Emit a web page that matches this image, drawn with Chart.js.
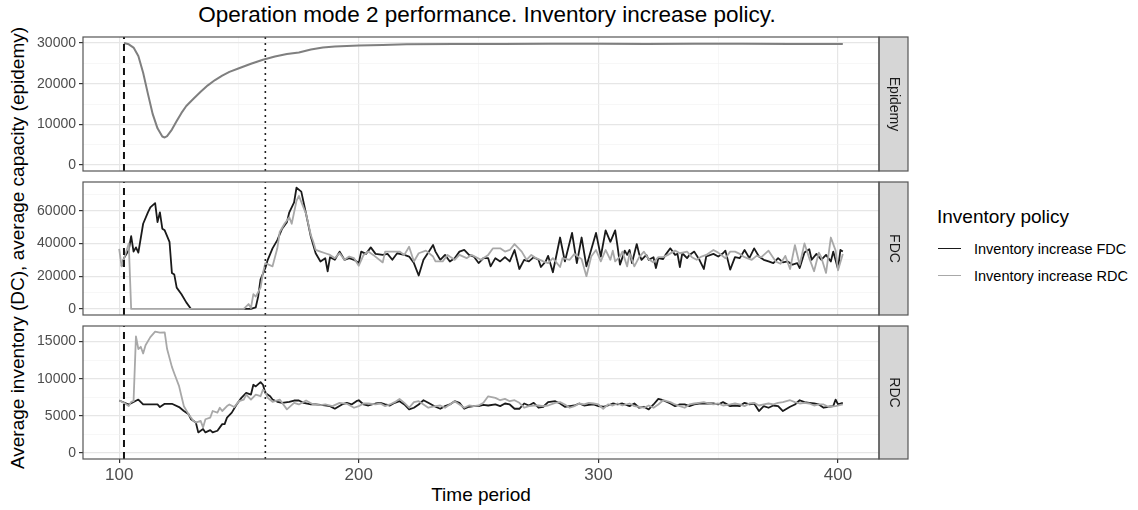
<!DOCTYPE html>
<html>
<head>
<meta charset="utf-8">
<script src="https://cdn.jsdelivr.net/npm/chart.js@4.4.0/dist/chart.umd.min.js"></script>
<style>
  body { margin: 0; background: #fff; font-family: "Liberation Sans", Arial, sans-serif; }
  #wrap { position: relative; width: 1138px; height: 510px; overflow: hidden; }
  canvas.panel { position: absolute; left: 0; }
  .txt { position: absolute; white-space: nowrap; color: #000; }
  .key { position: absolute; left: 938px; width: 23px; height: 0; }
</style>
</head>
<body>
<div id="wrap">
  <div class="txt" id="title" style="left:0;width:974px;top:4px;text-align:center;font-size:22.5px;line-height:22px;">Operation mode 2 performance. Inventory increase policy.</div>
  <div class="txt" id="ytitle" style="left:-232px;width:500px;top:238px;text-align:center;font-size:19px;line-height:20px;transform:rotate(-90deg);">Average inventory (DC), average capacity (epidemy)</div>
  <div class="txt" id="xtitle" style="left:231px;width:500px;top:485px;text-align:center;font-size:19px;line-height:20px;">Time period</div>

  <div class="txt" style="left:937px;top:207px;font-size:19px;line-height:20px;">Inventory policy</div>
  <div class="key" style="top:248px;border-top:1.8px solid #1A1A1A;"></div>
  <div class="txt" style="left:974px;top:240px;font-size:14.5px;line-height:18px;">Inventory increase FDC</div>
  <div class="key" style="top:275px;border-top:1.8px solid #A8A8A8;"></div>
  <div class="txt" style="left:974px;top:267px;font-size:14.5px;line-height:18px;">Inventory increase RDC</div>

  <canvas class="panel" id="pEpi" width="912" height="148" style="top:30px"></canvas>
  <canvas class="panel" id="pFdc" width="912" height="147" style="top:175px"></canvas>
  <canvas class="panel" id="pRdc" width="912" height="171" style="top:319px"></canvas>
</div>

<script>
// Epidemy capacity
const epiT = [102,104,106,108,110,112,114,116,118,119,
  120,122,124,126,128,131,134,137,140,143,
  146,150,155,160,165,170,175,180,185,190,
  200,210,220,240,260,280,300,320,340,360,
  380,400,402];
const epiV = [30000,29700,28900,26800,22700,17500,12500,9000,7000,6750,
  7100,8700,10800,12800,14500,16300,18000,19600,20900,22000,
  22900,23800,24900,25900,26700,27300,27700,28400,28900,29150,
  29400,29550,29700,29750,29800,29850,29850,29800,29850,29850,
  29800,29800,29750];

// FDC inventory, policy "Inventory increase FDC"
const fdcBlackT = [101,102,104,105,106,107,108,110,112,113,
  115,116,117,118,119,121,122,123,124,126,
  128,130,155,157,158,159,161,162,164,166,
  168,170,171,173,174,176,178,180,182,184,
  186,187,188,190,192,194,196,198,200,201,
  203,205,207,210,212,214,216,219,221,223,
  225,227,229,231,232,234,236,238,240,242,
  244,246,248,250,252,254,255,257,259,261,
  263,265,267,269,271,273,275,276,278,279,
  281,284,286,289,291,293,295,299,301,303,
  305,307,308,309,311,312,313,314,316,317,
  318,320,321,323,324,325,327,328,330,332,
  333,334,335,337,338,340,342,344,345,348,
  350,352,353,355,357,359,361,363,365,367,
  369,371,373,375,377,379,381,383,384,386,
  388,389,391,393,395,397,398,400,401,402];
const fdcBlackV = [26000,31000,36000,44400,35000,37600,34400,52000,59000,62000,
  64600,53000,59000,49000,48000,41000,22000,21000,13000,9000,
  4000,0,0,1000,7500,18000,25000,30000,37000,42000,
  49000,53000,59000,65000,74000,71600,58000,44000,34000,29000,
  31000,23000,31600,30000,35000,30000,31000,30000,28000,35000,
  33600,37600,33600,33000,33600,30000,34000,33000,32000,28000,
  20400,30000,34400,39000,35000,30000,33000,29000,31000,35000,
  36000,33000,32000,28000,31000,31000,26000,31000,29000,31600,
  29000,36000,24400,30000,29000,31600,30000,25600,29000,32400,
  22400,43600,29000,46400,28000,43600,26000,46400,32000,48000,
  41000,48000,38000,27000,35600,33000,36000,28000,39600,33600,
  30000,33000,30000,31600,25000,31000,30400,33000,37000,33000,
  33600,25600,34000,31000,33000,35000,30400,24400,32000,33600,
  32000,34000,35600,24000,31600,31000,36000,31000,37000,32000,
  30000,29000,28000,31000,28400,29000,27000,28000,25000,34400,
  36400,30000,33600,30000,33000,29000,35000,24400,36000,35000];

// FDC inventory, policy "Inventory increase RDC"
const fdcGrayT = [100,101,104,105,152,154,155,156,157,159,
  160,161,164,166,167,169,171,172,174,175,
  178,180,181,182,184,186,188,190,192,194,
  196,198,200,202,204,206,210,211,214,217,
  219,221,223,225,228,231,232,235,237,240,
  242,245,247,251,254,256,259,261,263,265,
  268,270,272,274,277,279,281,284,285,288,
  290,293,295,297,299,301,303,305,306,307,
  309,310,312,313,315,317,319,321,323,325,
  327,329,332,334,337,339,341,343,345,348,
  350,353,355,357,359,361,364,366,368,371,
  374,376,378,380,382,384,386,388,390,392,
  393,395,397,399,400,402];
const fdcGrayV = [36600,26000,40000,0,0,3000,600,9000,7500,13000,
  22000,28000,26000,37000,47000,52000,56000,52000,66000,69000,
  58000,45000,41000,36000,35000,34000,33000,31000,34000,30000,
  32000,31000,26400,33000,35000,33000,28400,35000,35000,35000,
  33000,38000,29000,34000,35600,32000,29000,29000,33000,30000,
  33000,31000,33000,30000,33000,37000,37000,35000,36000,39600,
  35000,30000,33000,31000,29000,28000,31000,25600,31000,30000,
  33600,30400,20000,32000,36000,29000,36000,30000,35600,29000,
  32000,35000,26000,34000,26000,31600,35000,30400,28400,31600,
  31600,33000,35600,34000,35000,31600,30000,32000,33000,36000,
  34400,31000,35000,35000,33600,31600,30000,32400,31600,35600,
  29000,27600,32400,24400,39000,27000,40000,31000,23000,34400,
  31600,22000,43600,35600,23600,33600];

// RDC inventory, policy "Inventory increase FDC"
const rdcBlackT = [100,104,108,110,113,116,117,119,122,125,
  127,129,130,132,133,135,136,138,139,141,
  143,144,145,147,149,151,153,155,156,157,
  159,160,161,163,164,166,168,171,173,175,
  177,180,182,185,188,190,193,195,197,199,
  200,202,204,207,209,211,213,215,217,219,
  221,223,225,227,229,232,234,236,238,240,
  242,244,246,248,250,252,254,257,259,261,
  263,265,267,269,271,273,275,277,279,282,
  284,286,288,290,292,294,296,298,300,302,
  304,306,308,310,313,315,317,319,321,323,
  325,327,330,332,334,336,338,340,342,344,
  346,348,350,352,355,357,359,361,363,365,
  367,369,371,373,375,377,380,382,384,386,
  388,390,392,394,396,398,399,400,402];
const rdcBlackV = [7070,6540,7200,6540,6540,6540,6190,6630,6630,6190,
  5660,5220,4550,4110,2780,3230,2780,3090,2780,3000,
  3890,3890,4770,5440,6540,7430,8090,7870,9190,8970,
  9550,9190,8090,7650,7200,6900,6760,6900,7070,7070,
  6760,6540,6540,6450,6320,5970,6540,6760,6540,6980,
  7110,6540,6400,6670,6760,6540,6400,6760,6980,6540,
  5870,6100,6540,7110,6760,6230,5960,6320,6540,6980,
  6760,5960,6230,6320,6320,6490,6400,6540,6320,6670,
  6540,5960,5960,6670,6400,6760,6100,6230,6850,6980,
  6670,6230,6320,6400,6670,6400,6490,6540,6320,6230,
  6400,6670,6540,6670,6320,6670,6100,6230,5870,6540,
  7290,7110,6670,6320,6540,6540,6320,6540,6670,6670,
  6670,6670,6540,6850,6320,6400,6320,6760,6540,6670,
  5650,6320,6100,6400,6320,5650,6230,6540,7110,6850,
  6760,6670,6540,6100,6230,6320,7200,6540,6760];

// RDC inventory, policy "Inventory increase RDC"
const rdcGrayT = [100,102,104,105,106,107,108,109,110,111,
  113,115,117,119,120,122,123,125,126,127,
  129,131,132,134,135,136,138,139,141,142,
  143,145,146,148,150,152,153,155,157,159,
  160,161,162,164,167,170,173,175,178,181,
  184,186,189,192,195,198,200,202,204,207,
  209,211,213,215,217,219,221,223,225,227,
  229,232,234,236,238,240,242,244,246,248,
  250,252,254,257,259,261,263,265,267,269,
  271,273,275,277,279,282,284,286,288,290,
  292,294,296,298,300,302,304,306,308,310,
  313,315,317,319,321,323,325,327,330,332,
  334,336,338,340,342,344,346,348,350,352,
  355,357,359,361,363,365,367,369,371,373,
  375,377,380,382,384,386,388,390,392,394,
  396,399,402];
const rdcGrayV = [7070,6760,6320,6890,6980,15700,14000,14300,13400,14500,
  15600,16350,16200,16250,14000,11600,10700,9000,7650,6300,
  5200,4330,4100,4330,3450,4550,4770,5660,5440,6100,
  5660,6320,6540,6190,6980,7200,7870,7200,7870,7650,
  8530,8220,7430,6900,7200,5880,6760,6540,7070,6540,
  6450,6540,6320,6760,6630,6100,6320,6670,6670,6540,
  6670,6320,6540,6850,7290,6760,6100,6850,6980,6540,
  6100,6320,6400,6100,6540,6980,6540,6100,6400,6320,
  6400,6760,7640,7420,7110,7290,6980,7110,6760,6100,
  6320,6400,6400,6320,6400,6760,6850,6540,6100,6320,
  6670,6540,6760,6670,6540,5960,6540,6400,6670,6400,
  6670,6320,6230,6100,6400,6100,6540,7110,6850,6540,
  6320,6100,6540,6670,6760,6850,6670,6540,6670,6400,
  6540,6670,6540,6320,6670,6760,6400,6540,6670,6540,
  6760,6850,7110,6850,6670,6760,6670,6400,6540,6540,
  6230,6320,6540];

// Tick positions (major ones get labels, the others are minor grid lines)
const xTicks = [100, 150, 200, 250, 300, 350, 400];
const epiTicks = [0, 5000, 10000, 15000, 20000, 25000, 30000];
const fdcTicks = [0, 10000, 20000, 30000, 40000, 50000, 60000, 70000];
const rdcTicks = [0, 2500, 5000, 7500, 10000, 12500, 15000];

// Reference lines (epidemy start / end of disruption)
const dashedX = 102;
const dottedX = 161;

const FONT = '"Liberation Sans", Arial, sans-serif';
Chart.defaults.font.family = FONT;

function pts(ts, vs) {
  return ts.map((t, i) => ({ x: t, y: vs[i] }));
}

// Panel border and the grey facet strip on the right
const panelDecor = {
  id: 'panelDecor',
  afterDraw(chart, args, opts) {
    const ctx = chart.ctx;
    const a = chart.chartArea;
    ctx.save();
    ctx.fillStyle = '#D6D6D6';
    ctx.fillRect(a.right, a.top, 29, a.bottom - a.top);
    ctx.strokeStyle = '#555';
    ctx.lineWidth = 1.2;
    ctx.strokeRect(a.right, a.top, 29, a.bottom - a.top);
    ctx.strokeRect(a.left, a.top, a.right - a.left, a.bottom - a.top);
    ctx.translate(a.right + 14.5, (a.top + a.bottom) / 2);
    ctx.rotate(Math.PI / 2);
    ctx.fillStyle = '#1A1A1A';
    ctx.font = '14px ' + FONT;
    ctx.textAlign = 'center';
    ctx.textBaseline = 'middle';
    ctx.fillText(opts.label, 0, 0);
    ctx.restore();
  }
};

function refLines(yMin, yMax) {
  return [
    { data: [{ x: dashedX, y: yMin }, { x: dashedX, y: yMax }], borderColor: '#111', borderWidth: 2, borderDash: [7, 5], order: 0 },
    { data: [{ x: dottedX, y: yMin }, { x: dottedX, y: yMax }], borderColor: '#222', borderWidth: 1.6, borderDash: [2, 4], order: 0 }
  ];
}

function makePanel(id, label, series, yMin, yMax, yTicks, yMajor, showX) {
  const major = '#E6E6E6';
  const minor = '#F1F1F1';
  return new Chart(document.getElementById(id), {
    type: 'line',
    data: { datasets: series.concat(refLines(yMin, yMax)) },
    options: {
      responsive: false,
      animation: false,
      events: [],
      layout: { padding: { top: 7, bottom: showX ? 0 : 7, left: 0, right: 33 } },
      elements: {
        point: { radius: 0 },
        line: { tension: 0, borderJoinStyle: 'round', fill: false }
      },
      plugins: {
        legend: { display: false },
        tooltip: { enabled: false },
        panelDecor: { label: label }
      },
      scales: {
        x: {
          type: 'linear', min: 84.9, max: 417.1,
          afterBuildTicks: s => { s.ticks = xTicks.map(v => ({ value: v })); },
          afterFit: s => {
            s.height = showX ? 31 : 0;
            s.paddingLeft = 0;
            s.paddingRight = 0;
          },
          border: { display: false },
          grid: {
            color: c => c.tick.value % 100 === 0 ? major : minor,
            lineWidth: c => c.tick.value % 100 === 0 ? 1.2 : 0.6,
            drawTicks: showX, tickLength: 4, tickWidth: 1.2,
            tickColor: c => c.tick.value % 100 === 0 ? '#333' : 'rgba(0,0,0,0)'
          },
          ticks: {
            display: showX, autoSkip: false, maxRotation: 0,
            color: '#4D4D4D', font: { size: 17 }, padding: 2,
            callback: v => v % 100 === 0 ? String(v) : ''
          }
        },
        y: {
          type: 'linear', min: yMin, max: yMax,
          afterBuildTicks: s => { s.ticks = yTicks.map(v => ({ value: v })); },
          afterFit: s => {
            s.width = 83;
            s.paddingTop = 0;
            s.paddingBottom = 0;
          },
          border: { display: false },
          grid: {
            color: c => c.tick.value % yMajor === 0 ? major : minor,
            lineWidth: c => c.tick.value % yMajor === 0 ? 1.2 : 0.6,
            tickLength: 4, tickWidth: 1.2,
            tickColor: c => c.tick.value % yMajor === 0 ? '#333' : 'rgba(0,0,0,0)'
          },
          ticks: {
            autoSkip: false,
            color: '#4D4D4D', font: { size: 14 }, padding: 3,
            callback: v => v % yMajor === 0 ? String(v) : ''
          }
        }
      }
    },
    plugins: [panelDecor]
  });
}

const blackStyle = { borderColor: '#1A1A1A', borderWidth: 1.8, order: 2 };
const grayStyle = { borderColor: '#A8A8A8', borderWidth: 1.8, order: 1 };

makePanel('pEpi', 'Epidemy', [
  { data: pts(epiT, epiV), borderColor: '#7F7F7F', borderWidth: 2, order: 1 }
], -1500, 31500, epiTicks, 10000, false);

makePanel('pFdc', 'FDC', [
  Object.assign({ data: pts(fdcBlackT, fdcBlackV) }, blackStyle),
  Object.assign({ data: pts(fdcGrayT, fdcGrayV) }, grayStyle)
], -3700, 77500, fdcTicks, 20000, false);

makePanel('pRdc', 'RDC', [
  Object.assign({ data: pts(rdcBlackT, rdcBlackV) }, blackStyle),
  Object.assign({ data: pts(rdcGrayT, rdcGrayV) }, grayStyle)
], -800, 17100, rdcTicks, 5000, true);
</script>
</body>
</html>
